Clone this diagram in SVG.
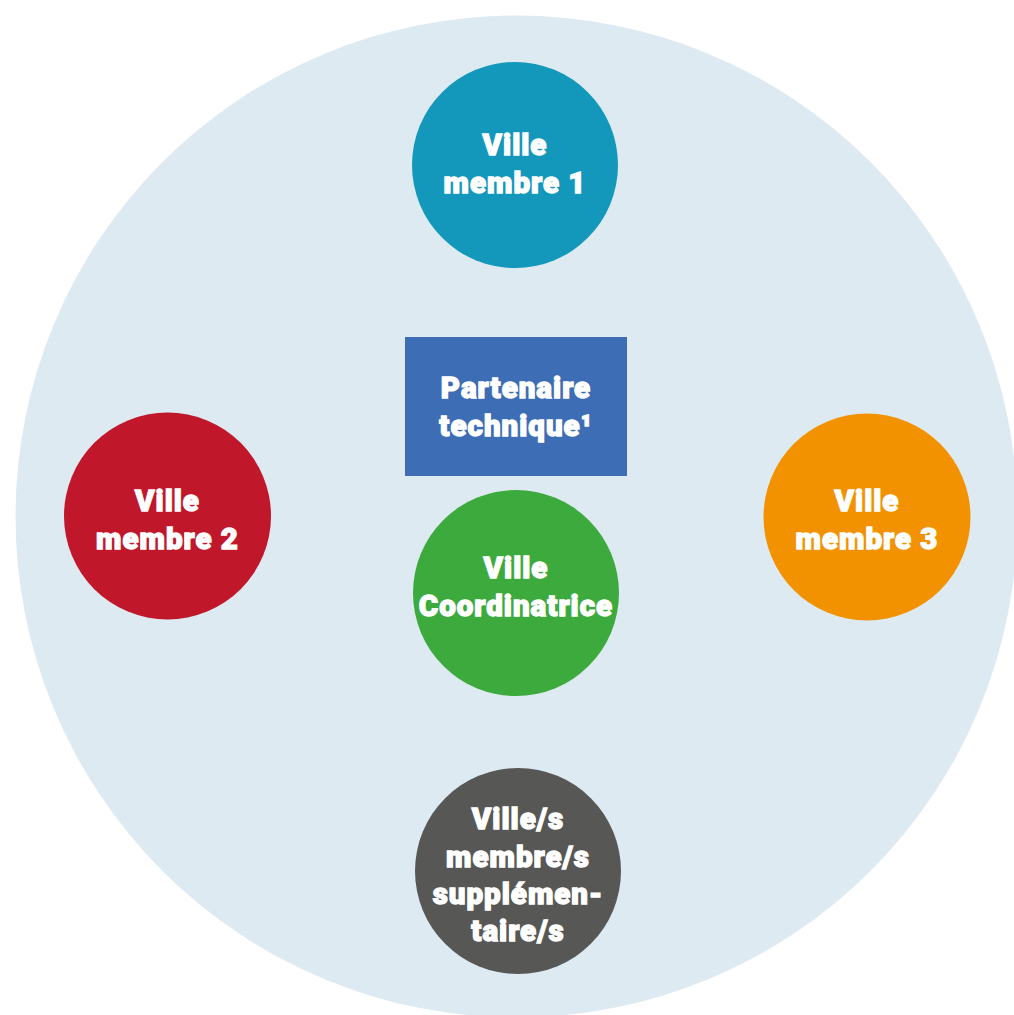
<svg xmlns="http://www.w3.org/2000/svg" width="1014" height="1015" viewBox="0 0 1014 1015">
<style>
.t{font-family:Roboto,"Liberation Sans",sans-serif;font-weight:900;font-size:29.5px;letter-spacing:1px;fill:#fff;stroke:#fff;stroke-width:1.3px;text-anchor:middle}
</style>
<rect width="1014" height="1015" fill="#fff"/>
<circle id="bg" cx="516.5" cy="516.5" r="501" fill="#DEEAF2"/>
<g id="connectors"/>
<g id="n1"><circle cx="515" cy="165" r="103" fill="#1397BB"/><text class="t" x="515" y="155">Ville</text><text class="t" x="515" y="193">membre 1</text></g>
<g id="n2"><circle cx="167.5" cy="516" r="103.5" fill="#C0172B"/><text class="t" x="167.5" y="511">Ville</text><text class="t" x="167.5" y="549">membre 2</text></g>
<g id="n3"><circle cx="867" cy="517" r="103.5" fill="#F39200"/><text class="t" x="867" y="511">Ville</text><text class="t" x="867" y="549">membre 3</text></g>
<g id="pt"><rect x="405" y="337" width="222" height="139" fill="#3D6DB5"/><text class="t" x="516" y="398">Partenaire</text><text class="t" x="516" y="436">technique¹</text></g>
<g id="vc"><circle cx="516" cy="593" r="103" fill="#3CAA3C"/><text class="t" x="516" y="578">Ville</text><text class="t" x="516" y="616">Coordinatrice</text></g>
<g id="vs"><circle cx="518" cy="871" r="103" fill="#575756"/><text class="t" x="518" y="829">Ville/s</text><text class="t" x="518" y="867">membre/s</text><text class="t" x="518" y="904">supplémen-</text><text class="t" x="518" y="941">taire/s</text></g>
</svg>
